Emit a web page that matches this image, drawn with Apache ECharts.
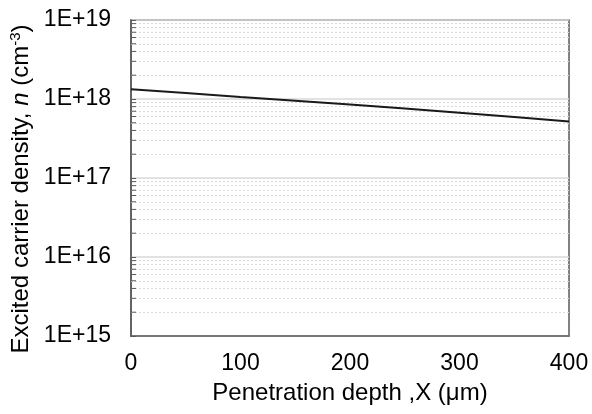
<!DOCTYPE html>
<html>
<head>
<meta charset="utf-8">
<script src="https://cdn.jsdelivr.net/npm/echarts@6/dist/echarts.min.js"></script>
<style>html,body{margin:0;padding:0;background:#fff}#c{width:592px;height:414px}</style>
</head>
<body>
<div id="c"></div>
<script>
// Data
const depth = [0, 50, 100, 150, 200, 250, 300, 350, 400];
const density = [1.33e18, 1.19e18, 1.06e18, 0.95e18, 0.85e18, 0.76e18, 0.67e18, 0.59e18, 0.52e18];
const xTicks = [0, 100, 200, 300, 400];
const decades = [1e15, 1e16, 1e17, 1e18];
const minorMultipliers = [2, 3, 4, 5, 6, 7, 8, 9];

const minorValues = [];
decades.forEach(d => minorMultipliers.forEach(m => minorValues.push(d * m)));

const font = 'Liberation Sans, Arial, sans-serif';
const chart = echarts.init(document.getElementById('c'));
chart.setOption({
  animation: false,
  grid: { left: 131, right: 23, top: 20, bottom: 78, show: true, borderColor: '#595959', borderWidth: 1.5, backgroundColor: 'transparent' },
  xAxis: {
    type: 'value', min: 0, max: 400, interval: 100,
    name: 'Penetration depth ,X (\u03bcm)', nameLocation: 'middle', nameGap: 45,
    nameTextStyle: { fontFamily: font, fontSize: 24, color: '#000' },
    axisLine: { show: true, lineStyle: { color: '#595959', width: 1.5 } },
    axisTick: { show: false },
    splitLine: { show: false },
    axisLabel: { fontFamily: font, fontSize: 23, color: '#000', margin: 16 }
  },
  yAxis: {
    type: 'log', logBase: 10, min: 1e15, max: 1e19,
    name: 'Excited carrier density, {i|n} (cm{sup|-3})', nameLocation: 'middle', nameGap: 93,
    nameTextStyle: {
      fontFamily: font, fontSize: 24, color: '#000', padding: [0, 22, 0, 0],
      rich: {
        i: { fontFamily: font, fontSize: 24, fontStyle: 'italic', color: '#000' },
        sup: { fontFamily: font, fontSize: 15, color: '#000', verticalAlign: 'top', padding: [0, 0, 10, 0] }
      }
    },
    axisLine: { show: true, lineStyle: { color: '#595959', width: 1.5 } },
    axisTick: { show: true, inside: true, length: 5, lineStyle: { color: '#595959' } },
    splitLine: { show: true, lineStyle: { color: '#d9d9d9', width: 1.5 } },
    axisLabel: {
      fontFamily: font, fontSize: 23, color: '#000', margin: 20,
      formatter: v => '1E+' + Math.round(Math.log10(v))
    }
  },
  series: [
    {
      type: 'line', data: depth.map((x, i) => [x, density[i]]),
      showSymbol: false, smooth: false,
      lineStyle: { color: '#1a1a1a', width: 2 },
      z: 5,
      markLine: {
        silent: true, symbol: 'none', label: { show: false },
        lineStyle: { color: '#d9d9d9', type: [2, 2], width: 1 },
        data: minorValues.map(v => ({ yAxis: v }))
      }
    },
    {
      type: 'custom', silent: true, z: 6,
      data: minorValues.map(v => [0, v]),
      renderItem: (params, api) => {
        const p = api.coord([api.value(0), api.value(1)]);
        return { type: 'line', shape: { x1: p[0], y1: p[1], x2: p[0] + 5, y2: p[1] }, style: { stroke: '#595959', lineWidth: 1 } };
      }
    }
  ]
});
</script>
</body>
</html>
